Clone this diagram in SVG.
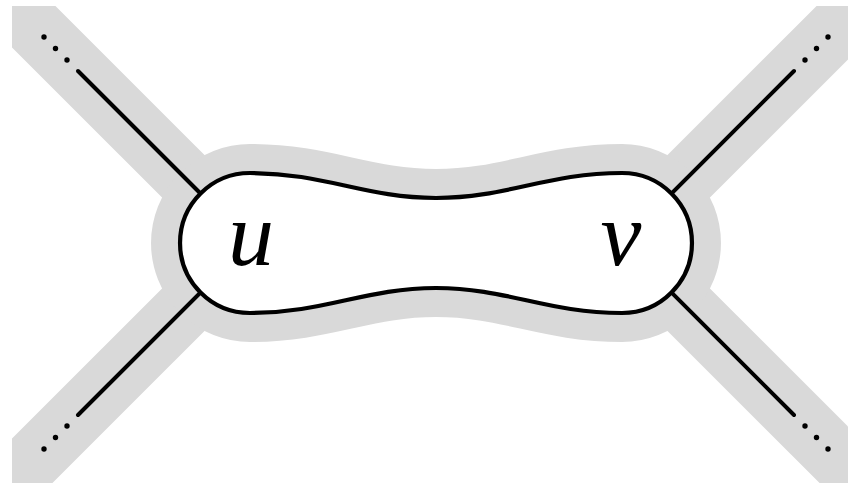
<svg xmlns="http://www.w3.org/2000/svg" width="848" height="483" viewBox="0 0 848 483">
  <style>
    .band { stroke: #d9d9d9; stroke-width: 60; fill: none; }
    .halo { fill: #d9d9d9; stroke: #d9d9d9; stroke-width: 58; stroke-linejoin: round; }
    .edge { stroke: #000; stroke-width: 4; stroke-linecap: round; fill: none; }
    .dot { fill: #000; }
    .blob { fill: #fff; stroke: #000; stroke-width: 4.2; }
  </style>
  <defs>
    <clipPath id="clip"><rect x="12" y="6" width="900" height="500"/></clipPath>
    <path id="blobPath" d="M 250,173 C 325,173 365,198 436,198 C 507,198 547,173 622,173 A 70,70 0 0 1 622,313 C 547,313 507,288 436,288 C 365,288 325,313 250,313 A 70,70 0 0 1 250,173 Z"/>
  </defs>
  <g id="halo" clip-path="url(#clip)">
    <line class="band" x1="250" y1="243" x2="-50" y2="-57"/>
    <line class="band" x1="250" y1="243" x2="-50" y2="543"/>
    <line class="band" x1="622" y1="243" x2="922" y2="-57"/>
    <line class="band" x1="622" y1="243" x2="922" y2="543"/>
    <use href="#blobPath" class="halo"/>
  </g>
  <g id="connectors">
    <line class="edge" x1="250" y1="243" x2="78" y2="71"/>
    <line class="edge" x1="250" y1="243" x2="78" y2="415"/>
    <line class="edge" x1="622" y1="243" x2="794" y2="71"/>
    <line class="edge" x1="622" y1="243" x2="794" y2="415"/>
    <circle class="dot" cx="67" cy="60" r="2.7"/>
    <circle class="dot" cx="55.5" cy="48.5" r="2.7"/>
    <circle class="dot" cx="44" cy="37" r="2.7"/>
    <circle class="dot" cx="67" cy="426" r="2.7"/>
    <circle class="dot" cx="55.5" cy="437.5" r="2.7"/>
    <circle class="dot" cx="44" cy="449" r="2.7"/>
    <circle class="dot" cx="805" cy="60" r="2.7"/>
    <circle class="dot" cx="816.5" cy="48.5" r="2.7"/>
    <circle class="dot" cx="828" cy="37" r="2.7"/>
    <circle class="dot" cx="805" cy="426" r="2.7"/>
    <circle class="dot" cx="816.5" cy="437.5" r="2.7"/>
    <circle class="dot" cx="828" cy="449" r="2.7"/>
  </g>
  <g id="node-uv">
    <use href="#blobPath" class="blob"/>
    <text x="251" y="265" text-anchor="middle" font-family="Liberation Serif, serif" font-style="italic" font-size="92" fill="#000">u</text>
    <text x="621" y="265" text-anchor="middle" font-family="Liberation Serif, serif" font-style="italic" font-size="92" fill="#000">v</text>
  </g>
</svg>
